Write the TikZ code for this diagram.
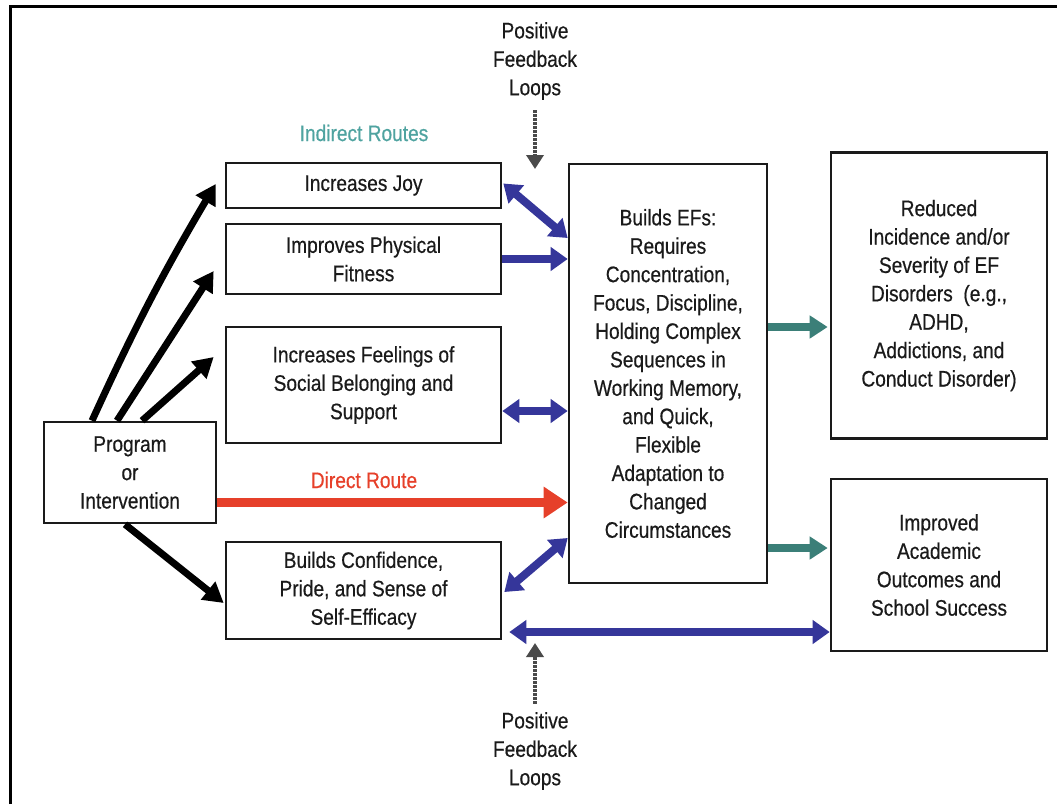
\documentclass[tikz,border=0pt]{standalone}
\usepackage{fontspec}
\setmainfont{Liberation Sans}[FakeStretch=0.85,FakeBold=0.5]
\usetikzlibrary{arrows.meta,calc}
\definecolor{txt}{HTML}{1A1A1A}
\definecolor{efblue}{HTML}{35369A}
\definecolor{efred}{HTML}{E6402A}
\definecolor{efteal}{HTML}{3B7F78}
\definecolor{lblteal}{HTML}{4FA3A0}
\definecolor{loopgray}{HTML}{4A4A4A}
\begin{document}
\begin{tikzpicture}[x=1pt,y=-1pt,
  font=\fontsize{22.5}{28.4}\selectfont,
  box/.style={draw=txt, line width=2.6pt, inner sep=0pt, align=center, text=txt},
  lbl/.style={align=center, text=txt, inner sep=0pt},
  blk/.style={draw=black, line width=7pt, -{Triangle[length=20pt,width=22pt]}},
  dbl/.style={draw=efblue, line width=8pt, {Triangle[length=17pt,width=23pt]}-{Triangle[length=17pt,width=23pt]}},
  sgl/.style={draw=efblue, line width=8pt, -{Triangle[length=17pt,width=23pt]}},
  redarr/.style={draw=efred, line width=9pt, -{Triangle[length=24pt,width=30pt]}},
  tealarr/.style={draw=efteal, line width=7.5pt, -{Triangle[length=18pt,width=22pt]}},
  loop/.style={draw=loopgray, line width=4pt, dash pattern=on 2.5pt off 1.5pt, -{Triangle[length=14pt,width=17pt]}}
]
\useasboundingbox (0,0) rectangle (1057,804);

% outer frame
\draw[line width=3.5pt, black] (10.5,804) -- (10.5,6.5) -- (1057,6.5);

% nodes
\node[box, minimum width=172pt, minimum height=101pt] (prog) at (130,472.5) {Program\\or\\Intervention};
\node[box, minimum width=275pt, minimum height=45pt] (joy) at (363.5,185.5) {Increases Joy};
\node[box, minimum width=275pt, minimum height=70pt] (fit) at (363.5,259) {Improves Physical\\Fitness};
\node[box, minimum width=275pt, minimum height=116pt] (feel) at (363.5,385) {Increases Feelings of\\Social Belonging and\\Support};
\node[box, minimum width=275pt, minimum height=97pt] (conf) at (363.5,590.5) {Builds Confidence,\\Pride, and Sense of\\Self-Efficacy};
\node[box, minimum width=198pt, minimum height=419pt] (efs) at (668,373.5) {Builds EFs:\\Requires\\Concentration,\\Focus, Discipline,\\Holding Complex\\Sequences in\\Working Memory,\\and Quick,\\Flexible\\Adaptation to\\Changed\\Circumstances};
\node[box, minimum width=216pt, minimum height=286pt] (red) at (939,295.5) {Reduced\\Incidence and/or\\Severity of EF\\Disorders\ \ (e.g.,\\ADHD,\\Addictions, and\\Conduct Disorder)};
\node[box, minimum width=216pt, minimum height=172pt] (impr) at (939,565) {Improved\\Academic\\Outcomes and\\School Success};

% labels
\node[lbl, text=lblteal] (indirect) at (364,133) {Indirect Routes};
\node[lbl, text=efred] (direct) at (364,480) {Direct Route};
\node[lbl] (pfltop) at (535,61) {Positive\\Feedback\\Loops};
\node[lbl] (pflbot) at (535,751) {Positive\\Feedback\\Loops};

% indirect routes from the program
\draw[blk] ([xshift=-38pt]prog.north) to[bend left=3] ([xshift=-9pt,yshift=1.5pt]joy.west);
\draw[blk] ([xshift=-13pt]prog.north) -- ([xshift=-11pt,yshift=-12pt]fit.west);
\draw[blk] ([xshift=12pt]prog.north) -- ([xshift=-11pt,yshift=28pt]feel.west);
\draw[blk] ([xshift=-5pt]prog.south) -- ([xshift=-1pt,yshift=-12.5pt]conf.west);

% links to executive functions
\draw[dbl] ([xshift=1pt,yshift=2pt]joy.east) -- ([yshift=135.5pt]efs.west);
\draw[sgl] (fit.east) -- (fit.east -| efs.west);
\draw[dbl] ([yshift=-26pt]feel.east) -- ([yshift=-26pt]feel.east -| efs.west);
\draw[dbl] ([xshift=2pt,yshift=-1.5pt]conf.east) -- ([yshift=-164.5pt]efs.west);

% direct route
\draw[redarr] ([yshift=-30pt]prog.east) -- ([yshift=-30pt]prog.east -| efs.west);

% outcomes
\draw[tealarr] ([yshift=46.5pt]efs.east) -- ([yshift=46.5pt,xshift=-2pt]efs.east -| red.west);
\draw[tealarr] ([yshift=-174.5pt]efs.east) -- ([yshift=-174.5pt,xshift=-2pt]efs.east -| impr.west);

% long feedback link
\coordinate (lb) at ([yshift=-67pt]impr.west);
\draw[dbl] (lb) -- ($(lb -| conf.east)+(7,0)$);

% positive feedback loop markers
\coordinate (looptop) at (535,169);
\coordinate (loopbot) at (535,643);
\draw[loop] ([yshift=-10pt]pfltop.south) -- (looptop);
\draw[loop] ([yshift=8pt]pflbot.north) -- (loopbot);
\end{tikzpicture}
\end{document}
